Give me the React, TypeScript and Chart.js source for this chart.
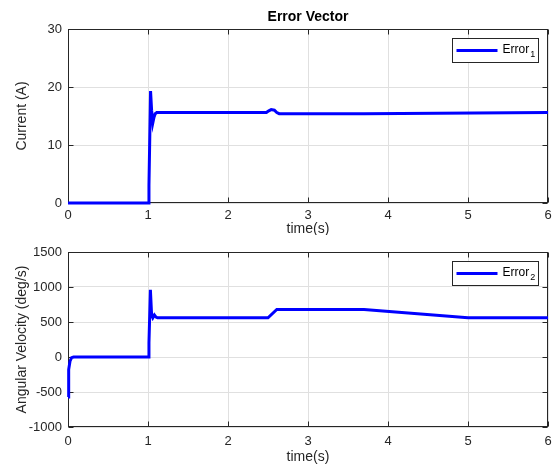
import React, { useEffect, useRef } from "react";
import { Chart, registerables } from "chart.js";

Chart.register(...registerables);

// ---- Data ----
const timeTop = [0, 1.0, 1.012, 1.032, 1.045, 1.06, 1.075, 1.09, 1.11, 2.48, 2.51, 2.54, 2.58, 2.61, 2.64, 3.7, 6];
const currentErr = [0, 0, 3, 19.3, 16.0, 13.8, 14.8, 15.4, 15.6, 15.6, 15.9, 16.1, 16.0, 15.6, 15.4, 15.4, 15.6];

const timeBottom = [0, 0.005, 0.012, 0.025, 0.045, 0.07, 1.0, 1.012, 1.03, 1.045, 1.06, 1.08, 1.1, 1.12, 2.5, 2.61, 3.7, 5.0, 6];
const velErr = [-570, -350, -180, -60, -10, 0, 0, 200, 960, 600, 560, 600, 570, 560, 560, 680, 680, 560, 560];

const xTicks = [0, 1, 2, 3, 4, 5, 6];
const topYTicks = [0, 10, 20, 30];
const bottomYTicks = [-1000, -500, 0, 500, 1000, 1500];

const chartTitle = "Error Vector";
const xLabel = "time(s)";
const topYLabel = "Current (A)";
const bottomYLabel = "Angular Velocity (deg/s)";
const legendBase = "Error";
const topLegendSub = "1";
const bottomLegendSub = "2";

const FONT = '"Liberation Sans", Arial, sans-serif';
const AXIS = "#262626";
const GRID = "#e0e0e0";
const BLUE = "#0000ff";

type PanelCfg = {
  times: number[];
  values: number[];
  yTicks: number[];
  yLabel: string;
  legendSub: string;
  title?: string;
  padTop: number;
  xAxisH: number;
  xTickPad: number;
  xLabelOff: number;
};

function makePlugin(cfg: PanelCfg) {
  return {
    id: "matlabFrame",
    beforeDatasetsDraw(chart: any) {
      const { ctx, chartArea: a } = chart;
      ctx.save();
      ctx.strokeStyle = AXIS;
      ctx.lineWidth = 1;
      const L = Math.round(a.left) + 0.5;
      const R = Math.round(a.right) - 0.5;
      const T = Math.round(a.top) + 0.5;
      const B = Math.round(a.bottom) - 0.5;
      ctx.strokeRect(L, T, R - L, B - T);
      const xs = chart.scales.x;
      const ys = chart.scales.y;
      const tl = 5;
      ctx.beginPath();
      xTicks.forEach((v) => {
        const px = Math.round(xs.getPixelForValue(v)) + 0.5;
        ctx.moveTo(px, B);
        ctx.lineTo(px, B - tl);
        ctx.moveTo(px, T);
        ctx.lineTo(px, T + tl);
      });
      cfg.yTicks.forEach((v) => {
        const py = Math.round(ys.getPixelForValue(v)) + 0.5;
        ctx.moveTo(L, py);
        ctx.lineTo(L + tl, py);
        ctx.moveTo(R, py);
        ctx.lineTo(R - tl, py);
      });
      ctx.stroke();
      ctx.restore();
    },
    afterDraw(chart: any) {
      const { ctx, chartArea: a } = chart;
      ctx.save();
      ctx.fillStyle = AXIS;
      ctx.font = `14px ${FONT}`;
      ctx.textAlign = "center";
      ctx.textBaseline = "middle";
      ctx.fillText(xLabel, (a.left + a.right) / 2, a.bottom + cfg.xLabelOff);
      ctx.save();
      ctx.translate(22, (a.top + a.bottom) / 2);
      ctx.rotate(-Math.PI / 2);
      ctx.fillText(cfg.yLabel, 0, 0);
      ctx.restore();
      if (cfg.title) {
        ctx.font = `bold 14px ${FONT}`;
        ctx.fillStyle = "#000";
        ctx.fillText(cfg.title, (a.left + a.right) / 2, a.top - 12);
      }
      // legend
      const bw = 86;
      const bh = 24;
      const bx = Math.round(a.right - 10 - bw) + 0.5;
      const by = Math.round(a.top + 9) + 0.5;
      ctx.fillStyle = "#fff";
      ctx.fillRect(bx, by, bw, bh);
      ctx.strokeStyle = AXIS;
      ctx.lineWidth = 1;
      ctx.strokeRect(bx, by, bw, bh);
      const cy = by + bh / 2;
      ctx.strokeStyle = BLUE;
      ctx.lineWidth = 3;
      ctx.beginPath();
      ctx.moveTo(bx + 4, cy);
      ctx.lineTo(bx + 45, cy);
      ctx.stroke();
      ctx.fillStyle = "#000";
      ctx.textAlign = "left";
      ctx.font = `12px ${FONT}`;
      ctx.fillText(legendBase, bx + 50, cy - 1);
      const w = ctx.measureText(legendBase).width;
      ctx.font = `9px ${FONT}`;
      ctx.fillText(cfg.legendSub, bx + 50 + w + 1, cy + 4);
      ctx.restore();
    },
  };
}

function makeChart(canvas: HTMLCanvasElement, cfg: PanelCfg) {
  const points = cfg.times.map((t, i) => ({ x: t, y: cfg.values[i] }));
  const ymin = cfg.yTicks[0];
  const ymax = cfg.yTicks[cfg.yTicks.length - 1];
  const step = cfg.yTicks[1] - cfg.yTicks[0];
  return new Chart(canvas, {
    type: "line",
    data: {
      datasets: [
        {
          data: points,
          borderColor: BLUE,
          borderWidth: 3,
          pointRadius: 0,
          tension: 0,
          fill: false,
          clip: 4,
        },
      ],
    },
    options: {
      animation: false,
      responsive: false,
      events: [],
      layout: { padding: { top: cfg.padTop, left: 0, right: 9, bottom: 0 } },
      plugins: {
        legend: { display: false },
        tooltip: { enabled: false },
        title: { display: false },
      },
      scales: {
        x: {
          type: "linear",
          min: xTicks[0],
          max: xTicks[xTicks.length - 1],
          ticks: {
            stepSize: 1,
            color: AXIS,
            font: { family: FONT, size: 13 },
            padding: cfg.xTickPad,
            maxRotation: 0,
            callback: (v: any) => String(v),
          },
          grid: { color: GRID, drawTicks: false },
          border: { display: false },
          afterFit: (s: any) => {
            s.height = cfg.xAxisH;
            s.paddingLeft = 0;
            s.paddingRight = 0;
          },
        },
        y: {
          type: "linear",
          min: ymin,
          max: ymax,
          ticks: {
            stepSize: step,
            color: AXIS,
            font: { family: FONT, size: 13 },
            padding: 6,
            callback: (v: any) => String(v),
          },
          grid: { color: GRID, drawTicks: false },
          border: { display: false },
          afterFit: (s: any) => {
            s.width = 68;
            s.paddingTop = 0;
            s.paddingBottom = 0;
          },
        },
      },
    },
    plugins: [makePlugin(cfg)],
  } as any);
}

export default function App() {
  const topRef = useRef<HTMLCanvasElement>(null);
  const botRef = useRef<HTMLCanvasElement>(null);

  useEffect(() => {
    const c1 = makeChart(topRef.current!, {
      times: timeTop,
      values: currentErr,
      yTicks: topYTicks,
      yLabel: topYLabel,
      legendSub: topLegendSub,
      title: chartTitle,
      padTop: 29,
      xAxisH: 32,
      xTickPad: 5,
      xLabelOff: 26,
    });
    const c2 = makeChart(botRef.current!, {
      times: timeBottom,
      values: velErr,
      yTicks: bottomYTicks,
      yLabel: bottomYLabel,
      legendSub: bottomLegendSub,
      padTop: 17,
      xAxisH: 38,
      xTickPad: 7,
      xLabelOff: 30,
    });
    return () => {
      c1.destroy();
      c2.destroy();
    };
  }, []);

  return (
    <div
      style={{
        position: "fixed",
        left: 0,
        top: 0,
        width: 557,
        height: 465,
        background: "#fff",
      }}
    >
      <canvas ref={topRef} width={557} height={235} style={{ position: "absolute", left: 0, top: 0, width: 557, height: 235 }} />
      <canvas ref={botRef} width={557} height={230} style={{ position: "absolute", left: 0, top: 235, width: 557, height: 230 }} />
    </div>
  );
}
